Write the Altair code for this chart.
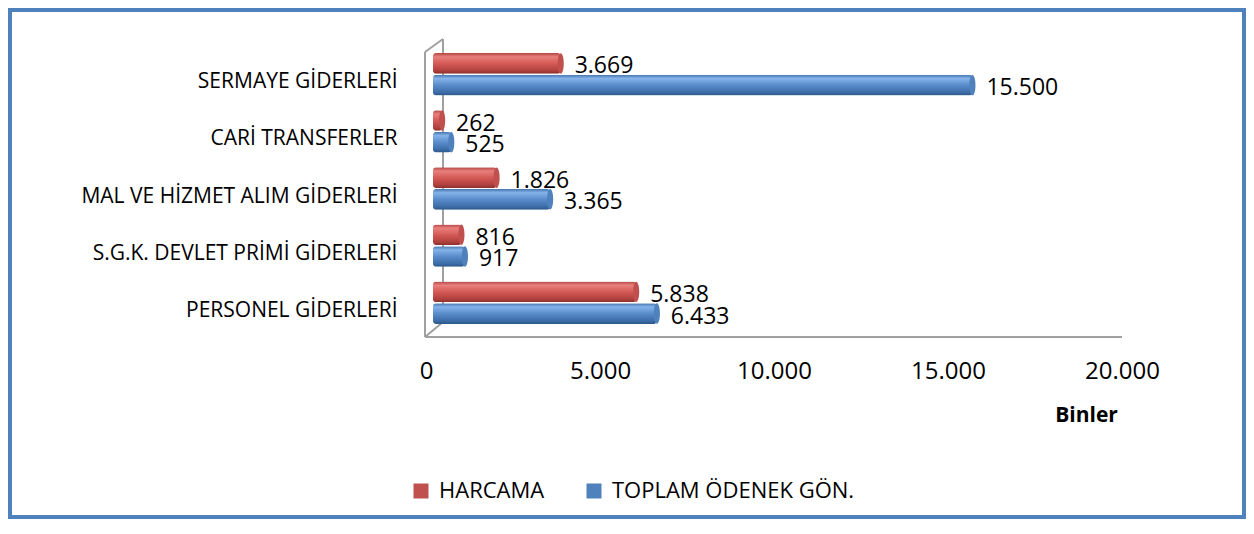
import altair as alt
import pandas as pd

categories = [
    "SERMAYE GİDERLERİ",
    "CARİ TRANSFERLER",
    "MAL VE HİZMET ALIM GİDERLERİ",
    "S.G.K. DEVLET PRİMİ GİDERLERİ",
    "PERSONEL GİDERLERİ",
]
series = ["HARCAMA", "TOPLAM ÖDENEK GÖN."]
harcama = [3669, 262, 1826, 816, 5838]
toplam = [15500, 525, 3365, 917, 6433]
x_ticks = [0, 5000, 10000, 15000, 20000]
series_colors = ["#C0504D", "#4F81BD"]

rows = []
for c, h, t in zip(categories, harcama, toplam):
    rows.append({"kategori": c, "seri": series[0], "deger": h})
    rows.append({"kategori": c, "seri": series[1], "deger": t})
df = pd.DataFrame(rows)
df["etiket"] = df["deger"].map(lambda v: f"{v:,}".replace(",", "."))

W, H = 696, 297
DEPTH = 7  # 3D depth shift of the bars
FONT = "Open Sans"
GRAY = "#A0A0A0"

y_enc = alt.Y(
    "kategori:N", sort=categories,
    scale=alt.Scale(paddingInner=0, paddingOuter=0.1),
    axis=alt.Axis(title=None, domain=False, ticks=False, labelFont=FONT,
                  labelFontSize=21, labelColor="#000", labelPadding=29,
                  labelOffset=8, labelLimit=400),
)
yoff = alt.YOffset(
    "seri:N", sort=series,
    scale=alt.Scale(domain=series, paddingInner=0.05, paddingOuter=0.34),
)
# axis scale (front plane)
x_axis = alt.X(
    "deger:Q",
    scale=alt.Scale(domain=[0, 20000], nice=False),
    axis=alt.Axis(values=x_ticks, grid=False, domain=False, ticks=False,
                  labelExpr="replace(format(datum.value, ','), ',', '.')",
                  labelFont=FONT, labelFontSize=24, labelPadding=22,
                  labelColor="#000", labelFlush=False,
                  title="Binler", titleFont=FONT, titleFontSize=21,
                  titleFontWeight="bold", titleColor="#000", titleX=660,
                  titleY=78, titleAlign="center", titleBaseline="middle",
                  titleAngle=0),
)
# bar scale (shifted by the 3D depth)
x_bar = alt.X(
    "deger:Q",
    scale=alt.Scale(domain=[0, 20000], nice=False, range=[DEPTH, W + DEPTH]),
    axis=None,
)


def grad(stops):
    return alt.Gradient(
        gradient="linear", x1=0, x2=0, y1=0, y2=1,
        stops=[alt.GradientStop(color=c, offset=o) for o, c in stops],
    )


red_grad = grad([(0, "#B54643"), (0.18, "#E8807D"), (0.5, "#D55A56"),
                 (0.85, "#B0403D"), (1, "#8A302E")])
blue_grad = grad([(0, "#4674AC"), (0.18, "#85B3EA"), (0.5, "#5A8CCB"),
                  (0.85, "#3D6DA8"), (1, "#2C5688")])

one = alt.Data(values=[{}])


def seg(x1, y1, x2, y2, color=GRAY, w=2):
    return alt.Chart(one).mark_rule(color=color, strokeWidth=w).encode(
        x=alt.value(x1), y=alt.value(y1), x2=alt.value(x2), y2=alt.value(y2)
    )


border = alt.Chart(one).mark_rect(
    fillOpacity=0, stroke="#4F81BD", strokeWidth=4
).encode(x=alt.value(-416), x2=alt.value(818), y=alt.value(-30), y2=alt.value(477))

walls = [
    seg(-1, 12, -1, 297),
    seg(17, -1, 17, 282),
    seg(-1, 12, 17, -1),
    seg(-1, 297, 17, 282),
    seg(-1, 297, 696, 297),
]

axis_layer = alt.Chart(df).mark_point(opacity=0).encode(x=x_axis, y=y_enc)


def bars(s, g):
    return alt.Chart(df).transform_filter(alt.datum.seri == s).mark_bar(
        color=g, cornerRadius=3
    ).encode(x=x_bar, y=y_enc, yOffset=yoff)


ELLIPSE = "M0,-1 A0.3,1 0 1,1 0,1 A0.3,1 0 1,1 0,-1 Z"

caps = alt.Chart(df).mark_point(
    filled=True, shape=ELLIPSE, size=420, opacity=1
).encode(
    x=x_bar, y=y_enc, yOffset=yoff,
    color=alt.Color(
        "seri:N", sort=series,
        scale=alt.Scale(domain=series, range=series_colors),
        legend=alt.Legend(
            title=None, orient="none", legendX=-16, legendY=440,
            direction="horizontal", symbolType="square", symbolSize=225,
            symbolStrokeWidth=0, symbolOpacity=1, labelFont=FONT,
            labelFontSize=22, labelColor="#000", labelOffset=7,
            columnPadding=38, padding=0, labelLimit=400,
        ),
    ),
)

labels = alt.Chart(df).mark_text(
    align="left", baseline="middle", dx=14, dy=3, font=FONT, fontSize=23,
    color="#000"
).encode(x=x_bar, y=y_enc, yOffset=yoff, text="etiket:N")

chart = alt.layer(
    border, *walls, axis_layer,
    bars(series[0], red_grad), bars(series[1], blue_grad),
    caps, labels,
).resolve_scale(x="independent").properties(
    width=W, height=H,
    autosize=alt.AutoSizeParams(type="none"),
    padding={"left": 418, "top": 32, "right": 124, "bottom": 182},
    background="white",
).configure_view(stroke=None)

chart.save("out.html", embed_options={"renderer": "svg", "actions": False})
